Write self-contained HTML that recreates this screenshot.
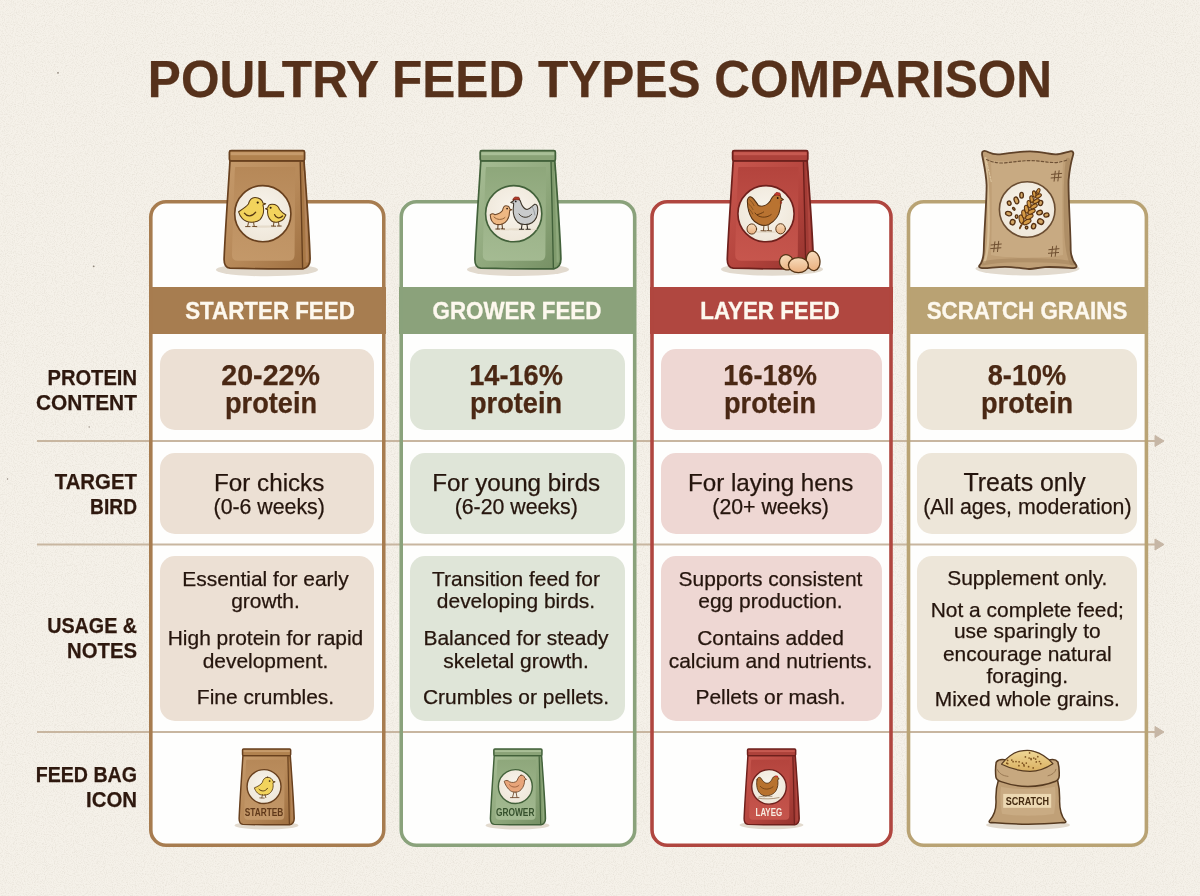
<!DOCTYPE html>
<html><head><meta charset="utf-8"><title>Poultry Feed Types Comparison</title>
<style>
html,body{margin:0;padding:0;}
body{width:1200px;height:896px;position:relative;overflow:hidden;background:#f5f1e9;
font-family:"Liberation Sans",Arial,sans-serif;}
.t{position:absolute;white-space:nowrap;z-index:3;-webkit-text-stroke:.25px currentColor;}
.cbg{position:absolute;background:#fefefd;border-radius:17px;z-index:0;}
.hb{position:absolute;z-index:2;}
.pill{position:absolute;border-radius:15px;z-index:2;}
.cb{position:absolute;box-sizing:border-box;border:3.6px solid;border-radius:17px;z-index:2;}
.lay{position:absolute;left:0;top:0;}
</style></head><body>
<svg class="lay" width="1200" height="896" viewBox="0 0 1200 896" style="z-index:0"><filter id="nz" x="0" y="0" width="100%" height="100%"><feTurbulence type="fractalNoise" baseFrequency=".9" numOctaves="2" seed="4"/><feColorMatrix type="matrix" values="0 0 0 0 .55  0 0 0 0 .5  0 0 0 0 .42  0 0 0 -1.1 .62"/></filter><rect width="1200" height="896" filter="url(#nz)" opacity=".55"/><g fill="#8f867c"><circle cx="58" cy="72.8" r=".9"/><circle cx="93.7" cy="266.3" r=".9"/><circle cx="89.2" cy="427" r=".7"/><circle cx="7.5" cy="479" r=".7"/></g></svg>
<div class="cbg" style="left:149.0px;top:200.0px;width:236.6px;height:647.0px;"></div>
<div class="cbg" style="left:399.4px;top:200.0px;width:237.1px;height:647.0px;"></div>
<div class="cbg" style="left:650.2px;top:200.0px;width:242.6px;height:647.0px;"></div>
<div class="cbg" style="left:906.7px;top:200.0px;width:241.5px;height:647.0px;"></div>
<svg class="lay" width="1200" height="896" viewBox="0 0 1200 896" style="z-index:1">
<line x1="37" y1="441.0" x2="1157" y2="441.0" stroke="#c8b6a0" stroke-width="2.1"/>
<path d="M1155,435.5 L1164,441.0 L1155,446.5 Z" fill="#c6b6a5" stroke="#c6b6a5" stroke-width="1" stroke-linejoin="round"/>
<line x1="37" y1="544.5" x2="1157" y2="544.5" stroke="#c8b6a0" stroke-width="2.1"/>
<path d="M1155,539.0 L1164,544.5 L1155,550.0 Z" fill="#c6b6a5" stroke="#c6b6a5" stroke-width="1" stroke-linejoin="round"/>
<line x1="37" y1="732.0" x2="1157" y2="732.0" stroke="#c8b6a0" stroke-width="2.1"/>
<path d="M1155,726.5 L1164,732.0 L1155,737.5 Z" fill="#c6b6a5" stroke="#c6b6a5" stroke-width="1" stroke-linejoin="round"/>
</svg>
<div class="hb" style="left:149.0px;top:286.5px;width:236.6px;height:47.0px;background:#a77d50;"></div>
<div class="pill" style="left:159.6px;top:349.0px;width:214.8px;height:81.0px;background:#ece0d4;"></div>
<div class="pill" style="left:159.6px;top:453.3px;width:214.8px;height:80.5px;background:#ece0d4;"></div>
<div class="pill" style="left:159.6px;top:555.6px;width:214.8px;height:165.2px;background:#ece0d4;"></div>
<svg class="lay" width="1200" height="896" viewBox="0 0 1200 896" style="z-index:2"><rect x="150.80" y="201.80" width="233.00" height="643.40" rx="15.20" fill="none" stroke="#a77c4f" stroke-width="3.6"/></svg>
<div class="t" style="left:70.00px;top:298.69px;width:400px;font-size:24.7px;line-height:24.7px;color:#fdf8ee;font-weight:700;text-align:center;transform:scaleX(0.905);transform-origin:center center;-webkit-text-stroke:.35px #fdf8ee;">STARTER FEED</div>
<div class="t" style="left:70.60px;top:361.39px;width:400px;font-size:28.6px;line-height:28.6px;color:#4a2814;font-weight:700;text-align:center;">20-22%</div>
<div class="t" style="left:70.60px;top:389.39px;width:400px;font-size:28.6px;line-height:28.6px;color:#4a2814;font-weight:700;text-align:center;transform:scaleX(0.95);transform-origin:center center;">protein</div>
<div class="t" style="left:69.20px;top:470.81px;width:400px;font-size:24.2px;line-height:24.2px;color:#25150d;font-weight:400;text-align:center;">For chicks</div>
<div class="t" style="left:69.20px;top:496.87px;width:400px;font-size:21.3px;line-height:21.3px;color:#25150d;font-weight:400;text-align:center;">(0-6 weeks)</div>
<div class="t" style="left:65.50px;top:568.97px;width:400px;font-size:20.95px;line-height:20.95px;color:#25150d;font-weight:400;text-align:center;">Essential for early</div>
<div class="t" style="left:65.50px;top:591.27px;width:400px;font-size:20.95px;line-height:20.95px;color:#25150d;font-weight:400;text-align:center;">growth.</div>
<div class="t" style="left:65.50px;top:628.37px;width:400px;font-size:20.95px;line-height:20.95px;color:#25150d;font-weight:400;text-align:center;">High protein for rapid</div>
<div class="t" style="left:65.50px;top:650.67px;width:400px;font-size:20.95px;line-height:20.95px;color:#25150d;font-weight:400;text-align:center;">development.</div>
<div class="t" style="left:65.50px;top:686.67px;width:400px;font-size:20.95px;line-height:20.95px;color:#25150d;font-weight:400;text-align:center;">Fine crumbles.</div>
<div class="hb" style="left:399.4px;top:286.5px;width:237.1px;height:47.0px;background:#8ba27b;"></div>
<div class="pill" style="left:410.0px;top:349.0px;width:215.3px;height:81.0px;background:#dfe5d8;"></div>
<div class="pill" style="left:410.0px;top:453.3px;width:215.3px;height:80.5px;background:#dfe5d8;"></div>
<div class="pill" style="left:410.0px;top:555.6px;width:215.3px;height:165.2px;background:#dfe5d8;"></div>
<svg class="lay" width="1200" height="896" viewBox="0 0 1200 896" style="z-index:2"><rect x="401.20" y="201.80" width="233.50" height="643.40" rx="15.20" fill="none" stroke="#8aa27b" stroke-width="3.6"/></svg>
<div class="t" style="left:317.40px;top:298.69px;width:400px;font-size:24.7px;line-height:24.7px;color:#fdf8ee;font-weight:700;text-align:center;transform:scaleX(0.905);transform-origin:center center;-webkit-text-stroke:.35px #fdf8ee;">GROWER FEED</div>
<div class="t" style="left:316.40px;top:361.39px;width:400px;font-size:28.6px;line-height:28.6px;color:#4a2814;font-weight:700;text-align:center;transform:scaleX(0.95);transform-origin:center center;">14-16%</div>
<div class="t" style="left:316.40px;top:389.39px;width:400px;font-size:28.6px;line-height:28.6px;color:#4a2814;font-weight:700;text-align:center;transform:scaleX(0.95);transform-origin:center center;">protein</div>
<div class="t" style="left:316.20px;top:470.81px;width:400px;font-size:24.2px;line-height:24.2px;color:#25150d;font-weight:400;text-align:center;">For young birds</div>
<div class="t" style="left:316.20px;top:496.87px;width:400px;font-size:21.3px;line-height:21.3px;color:#25150d;font-weight:400;text-align:center;">(6-20 weeks)</div>
<div class="t" style="left:316.00px;top:568.97px;width:400px;font-size:20.95px;line-height:20.95px;color:#25150d;font-weight:400;text-align:center;">Transition feed for</div>
<div class="t" style="left:316.00px;top:591.27px;width:400px;font-size:20.95px;line-height:20.95px;color:#25150d;font-weight:400;text-align:center;">developing birds.</div>
<div class="t" style="left:316.00px;top:628.37px;width:400px;font-size:20.95px;line-height:20.95px;color:#25150d;font-weight:400;text-align:center;">Balanced for steady</div>
<div class="t" style="left:316.00px;top:650.67px;width:400px;font-size:20.95px;line-height:20.95px;color:#25150d;font-weight:400;text-align:center;">skeletal growth.</div>
<div class="t" style="left:316.00px;top:686.67px;width:400px;font-size:20.95px;line-height:20.95px;color:#25150d;font-weight:400;text-align:center;">Crumbles or pellets.</div>
<div class="hb" style="left:650.2px;top:286.5px;width:242.6px;height:47.0px;background:#b04740;"></div>
<div class="pill" style="left:660.8px;top:349.0px;width:220.8px;height:81.0px;background:#eed7d3;"></div>
<div class="pill" style="left:660.8px;top:453.3px;width:220.8px;height:80.5px;background:#eed7d3;"></div>
<div class="pill" style="left:660.8px;top:555.6px;width:220.8px;height:165.2px;background:#eed7d3;"></div>
<svg class="lay" width="1200" height="896" viewBox="0 0 1200 896" style="z-index:2"><rect x="652.00" y="201.80" width="239.00" height="643.40" rx="15.20" fill="none" stroke="#b0463f" stroke-width="3.6"/></svg>
<div class="t" style="left:570.40px;top:298.69px;width:400px;font-size:24.7px;line-height:24.7px;color:#fdf8ee;font-weight:700;text-align:center;transform:scaleX(0.905);transform-origin:center center;-webkit-text-stroke:.35px #fdf8ee;">LAYER FEED</div>
<div class="t" style="left:570.40px;top:361.39px;width:400px;font-size:28.6px;line-height:28.6px;color:#4a2814;font-weight:700;text-align:center;transform:scaleX(0.95);transform-origin:center center;">16-18%</div>
<div class="t" style="left:570.40px;top:389.39px;width:400px;font-size:28.6px;line-height:28.6px;color:#4a2814;font-weight:700;text-align:center;transform:scaleX(0.95);transform-origin:center center;">protein</div>
<div class="t" style="left:570.60px;top:470.81px;width:400px;font-size:24.2px;line-height:24.2px;color:#25150d;font-weight:400;text-align:center;">For laying hens</div>
<div class="t" style="left:570.60px;top:496.87px;width:400px;font-size:21.3px;line-height:21.3px;color:#25150d;font-weight:400;text-align:center;">(20+ weeks)</div>
<div class="t" style="left:570.50px;top:568.97px;width:400px;font-size:20.95px;line-height:20.95px;color:#25150d;font-weight:400;text-align:center;">Supports consistent</div>
<div class="t" style="left:570.50px;top:591.27px;width:400px;font-size:20.95px;line-height:20.95px;color:#25150d;font-weight:400;text-align:center;">egg production.</div>
<div class="t" style="left:570.50px;top:628.37px;width:400px;font-size:20.95px;line-height:20.95px;color:#25150d;font-weight:400;text-align:center;">Contains added</div>
<div class="t" style="left:570.50px;top:650.67px;width:400px;font-size:20.95px;line-height:20.95px;color:#25150d;font-weight:400;text-align:center;">calcium and nutrients.</div>
<div class="t" style="left:570.50px;top:686.67px;width:400px;font-size:20.95px;line-height:20.95px;color:#25150d;font-weight:400;text-align:center;">Pellets or mash.</div>
<div class="hb" style="left:906.7px;top:286.5px;width:241.5px;height:47.0px;background:#b9a273;"></div>
<div class="pill" style="left:917.3px;top:349.0px;width:219.7px;height:81.0px;background:#ede6d9;"></div>
<div class="pill" style="left:917.3px;top:453.3px;width:219.7px;height:80.5px;background:#ede6d9;"></div>
<div class="pill" style="left:917.3px;top:555.6px;width:219.7px;height:165.2px;background:#ede6d9;"></div>
<svg class="lay" width="1200" height="896" viewBox="0 0 1200 896" style="z-index:2"><rect x="908.50" y="201.80" width="237.90" height="643.40" rx="15.20" fill="none" stroke="#b9a374" stroke-width="3.6"/></svg>
<div class="t" style="left:827.00px;top:298.69px;width:400px;font-size:24.7px;line-height:24.7px;color:#fdf8ee;font-weight:700;text-align:center;transform:scaleX(0.905);transform-origin:center center;-webkit-text-stroke:.35px #fdf8ee;">SCRATCH GRAINS</div>
<div class="t" style="left:827.20px;top:361.39px;width:400px;font-size:28.6px;line-height:28.6px;color:#4a2814;font-weight:700;text-align:center;transform:scaleX(0.95);transform-origin:center center;">8-10%</div>
<div class="t" style="left:827.20px;top:389.39px;width:400px;font-size:28.6px;line-height:28.6px;color:#4a2814;font-weight:700;text-align:center;transform:scaleX(0.95);transform-origin:center center;">protein</div>
<div class="t" style="left:824.60px;top:470.22px;width:400px;font-size:24.9px;line-height:24.9px;color:#25150d;font-weight:400;text-align:center;">Treats only</div>
<div class="t" style="left:827.40px;top:496.87px;width:400px;font-size:21.3px;line-height:21.3px;color:#25150d;font-weight:400;text-align:center;">(All ages, moderation)</div>
<div class="t" style="left:827.30px;top:567.67px;width:400px;font-size:20.95px;line-height:20.95px;color:#25150d;font-weight:400;text-align:center;">Supplement only.</div>
<div class="t" style="left:827.30px;top:599.87px;width:400px;font-size:20.95px;line-height:20.95px;color:#25150d;font-weight:400;text-align:center;">Not a complete feed;</div>
<div class="t" style="left:827.30px;top:621.47px;width:400px;font-size:20.95px;line-height:20.95px;color:#25150d;font-weight:400;text-align:center;">use sparingly to</div>
<div class="t" style="left:827.30px;top:644.27px;width:400px;font-size:20.95px;line-height:20.95px;color:#25150d;font-weight:400;text-align:center;">encourage natural</div>
<div class="t" style="left:827.30px;top:666.27px;width:400px;font-size:20.95px;line-height:20.95px;color:#25150d;font-weight:400;text-align:center;">foraging.</div>
<div class="t" style="left:827.30px;top:689.07px;width:400px;font-size:20.95px;line-height:20.95px;color:#25150d;font-weight:400;text-align:center;">Mixed whole grains.</div>
<div class="t" style="left:-62.80px;top:366.62px;width:200px;font-size:21.6px;line-height:21.6px;color:#2e180e;font-weight:700;text-align:right;transform:scaleX(0.933);transform-origin:right center;">PROTEIN</div>
<div class="t" style="left:-62.80px;top:391.72px;width:200px;font-size:21.6px;line-height:21.6px;color:#2e180e;font-weight:700;text-align:right;transform:scaleX(0.968);transform-origin:right center;">CONTENT</div>
<div class="t" style="left:-62.80px;top:470.82px;width:200px;font-size:21.6px;line-height:21.6px;color:#2e180e;font-weight:700;text-align:right;transform:scaleX(0.9440000000000001);transform-origin:right center;">TARGET</div>
<div class="t" style="left:-62.80px;top:495.62px;width:200px;font-size:21.6px;line-height:21.6px;color:#2e180e;font-weight:700;text-align:right;transform:scaleX(0.888);transform-origin:right center;">BIRD</div>
<div class="t" style="left:-62.80px;top:615.32px;width:200px;font-size:21.6px;line-height:21.6px;color:#2e180e;font-weight:700;text-align:right;transform:scaleX(0.913);transform-origin:right center;">USAGE &amp;</div>
<div class="t" style="left:-62.80px;top:640.02px;width:200px;font-size:21.6px;line-height:21.6px;color:#2e180e;font-weight:700;text-align:right;transform:scaleX(0.9400000000000001);transform-origin:right center;">NOTES</div>
<div class="t" style="left:-62.80px;top:764.32px;width:200px;font-size:21.6px;line-height:21.6px;color:#2e180e;font-weight:700;text-align:right;transform:scaleX(0.908);transform-origin:right center;">FEED BAG</div>
<div class="t" style="left:-62.80px;top:788.62px;width:200px;font-size:21.6px;line-height:21.6px;color:#2e180e;font-weight:700;text-align:right;transform:scaleX(0.9450000000000001);transform-origin:right center;">ICON</div>
<div class="t" style="left:49.70px;top:53.83px;width:1100px;font-size:51px;line-height:51px;color:#56311b;font-weight:700;text-align:center;transform:scaleX(0.972);transform-origin:center center;">POULTRY FEED TYPES COMPARISON</div>
<svg class="lay" width="1200" height="896" viewBox="0 0 1200 896" style="z-index:4">
<defs><radialGradient id="gLbl" cx=".5" cy=".42" r=".62"><stop offset="0" stop-color="#f8f4ec"/><stop offset="1" stop-color="#eee6d8"/></radialGradient><linearGradient id="gEgg" x1="0" y1="0" x2="0" y2="1"><stop offset="0" stop-color="#f7dcbc"/><stop offset="1" stop-color="#eab07f"/></linearGradient><linearGradient id="gGrain" x1="0" y1="0" x2="0" y2="1"><stop offset="0" stop-color="#f0d796"/><stop offset="1" stop-color="#d9b061"/></linearGradient><linearGradient id="gBbrown" x1="0" y1="0" x2="1" y2="1"><stop offset="0" stop-color="#c59a6b"/><stop offset=".55" stop-color="#b68858"/><stop offset="1" stop-color="#9d6e3f"/></linearGradient><linearGradient id="gPbrown" x1="0" y1="0" x2="0" y2="1"><stop offset="0" stop-color="#b68858"/><stop offset="1" stop-color="#c59a6b" stop-opacity=".9"/></linearGradient><linearGradient id="gBgreen" x1="0" y1="0" x2="1" y2="1"><stop offset="0" stop-color="#a7bd95"/><stop offset=".55" stop-color="#8ea77b"/><stop offset="1" stop-color="#748e62"/></linearGradient><linearGradient id="gPgreen" x1="0" y1="0" x2="0" y2="1"><stop offset="0" stop-color="#8ea77b"/><stop offset="1" stop-color="#a7bd95" stop-opacity=".9"/></linearGradient><linearGradient id="gBred" x1="0" y1="0" x2="1" y2="1"><stop offset="0" stop-color="#c9584f"/><stop offset=".55" stop-color="#b4443d"/><stop offset="1" stop-color="#93322d"/></linearGradient><linearGradient id="gPred" x1="0" y1="0" x2="0" y2="1"><stop offset="0" stop-color="#b4443d"/><stop offset="1" stop-color="#c9584f" stop-opacity=".9"/></linearGradient></defs>
<ellipse cx="267" cy="269.8" rx="51" ry="6.5" fill="#e2dace"/>
<g transform="translate(267,150.6) scale(1.0)" stroke-linejoin="round">
<path d="M-37,10 C-38.8,40 -41.8,80 -42.9,108 Q-43.2,117 -37,117.6 Q0,118.6 36,118.2 Q43.3,117 43.1,108 C42.3,80 39,40 37,10 Z" fill="url(#gBbrown)"/>
<path d="M-31.5,16.5 Q-32,16.5 -32.3,22 C-33,45 -34.5,80 -35,104 Q-35.2,110.2 -29,110.2 L22,110.2 Q27.6,110.2 27.6,104 C27.8,80 28,45 28.3,16.5 Z" fill="url(#gPbrown)"/>
<path d="M33.2,11 C34,45 35,85 35.6,118.2 L36,118.2 Q43.3,117 43.1,108 C42.3,80 39,40 37,10 Z" fill="#a77745"/>
<path d="M37.2,20 C38.5,50 39.6,85 39.9,112" fill="none" stroke="#b5855a" stroke-width="2.2"/>
<path d="M33.2,11 C34,45 35,85 35.6,118.2" fill="none" stroke="#68401e" stroke-width="1.36"/>
<path d="M-37,10 C-38.8,40 -41.8,80 -42.9,108 Q-43.2,117 -37,117.6 Q0,118.6 36,118.2 Q43.3,117 43.1,108 C42.3,80 39,40 37,10 Z" fill="none" stroke="#68401e" stroke-width="1.7"/>
<rect x="-37.6" y="0" width="75.2" height="10.2" rx="1.6" fill="#b1824f"/>
<rect x="-36.5" y="1.6" width="73" height="3" fill="#c69b6c"/>
<rect x="-37.6" y="0" width="75.2" height="10.2" rx="1.6" fill="none" stroke="#68401e" stroke-width="1.7"/>
<circle cx="-4.2" cy="63.1" r="28.1" fill="url(#gLbl)" stroke="#68401e" stroke-width="1.615"/>
</g>
<g stroke="#553813" stroke-width="1.05" stroke-linejoin="round" stroke-linecap="round">
<path d="M245,226.6 C255,225.2 275,225.2 284,226.6 C275,228 255,228 245,226.6 Z" fill="#e6dccb" stroke="none"/>
<path d="M255,197.4 C259.6,197.4 262.6,200.4 262.9,203 L265.7,203.7 L262.9,204.9 C264,209 264,215 260,219.6 C256,223.2 247,223.2 242.4,218.6 C240.4,216.6 239.1,213.6 238.6,211.8 C242,209.5 246,207 248.4,204 C249.4,200 251.4,197.4 255,197.4 Z" fill="#f2d35c"/>
<path d="M244.4,213.2 C247,216.9 252,217.1 255.7,212.2" fill="none" stroke-width="1.2"/>
<circle cx="257.7" cy="202.6" r="1.1" fill="#2e1c0c" stroke="none"/>
<path d="M248.5,222.6 L247.6,226.4 M245.6,226.6 L250,226.6 M253.6,222.6 L254.2,226.2 M252.6,226.4 L256.8,226.6" fill="none" stroke="#6e4a26" stroke-width="1"/>
<path d="M272,204.2 C269.5,204.2 268,206 267.6,208 L265.5,208.7 L267.7,209.7 C267,213 268,218.5 271.5,221 C275,223.6 281.5,222 284,218.6 L285.9,215 C283.5,213.5 281,211.5 279.5,209.5 C278.5,206 275.5,204.2 272,204.2 Z" fill="#f2d35c"/>
<path d="M274.5,214.5 C276,218.6 280,218.9 282.6,216" fill="none" stroke-width="1.2"/>
<circle cx="270.6" cy="207.8" r="1" fill="#2e1c0c" stroke="none"/>
<path d="M274,222 L273.4,226 M271.4,226 L275.6,226.2 M278.5,222 L279,225.8 M277.4,226 L281.2,226" fill="none" stroke="#6e4a26" stroke-width="1"/>
</g>
<ellipse cx="518" cy="269.6" rx="51" ry="6.5" fill="#e2dace"/>
<g transform="translate(517.8,150.6) scale(1.0)" stroke-linejoin="round">
<path d="M-37,10 C-38.8,40 -41.8,80 -42.9,108 Q-43.2,117 -37,117.6 Q0,118.6 36,118.2 Q43.3,117 43.1,108 C42.3,80 39,40 37,10 Z" fill="url(#gBgreen)"/>
<path d="M-31.5,16.5 Q-32,16.5 -32.3,22 C-33,45 -34.5,80 -35,104 Q-35.2,110.2 -29,110.2 L22,110.2 Q27.6,110.2 27.6,104 C27.8,80 28,45 28.3,16.5 Z" fill="url(#gPgreen)"/>
<path d="M33.2,11 C34,45 35,85 35.6,118.2 L36,118.2 Q43.3,117 43.1,108 C42.3,80 39,40 37,10 Z" fill="#7f9a6c"/>
<path d="M37.2,20 C38.5,50 39.6,85 39.9,112" fill="none" stroke="#8fa97c" stroke-width="2.2"/>
<path d="M33.2,11 C34,45 35,85 35.6,118.2" fill="none" stroke="#42613a" stroke-width="1.36"/>
<path d="M-37,10 C-38.8,40 -41.8,80 -42.9,108 Q-43.2,117 -37,117.6 Q0,118.6 36,118.2 Q43.3,117 43.1,108 C42.3,80 39,40 37,10 Z" fill="none" stroke="#42613a" stroke-width="1.7"/>
<rect x="-37.6" y="0" width="75.2" height="10.2" rx="1.6" fill="#8aa377"/>
<rect x="-36.5" y="1.6" width="73" height="3" fill="#a9bf97"/>
<rect x="-37.6" y="0" width="75.2" height="10.2" rx="1.6" fill="none" stroke="#42613a" stroke-width="1.7"/>
<circle cx="-4.1" cy="63.1" r="28.1" fill="url(#gLbl)" stroke="#42613a" stroke-width="1.615"/>
</g>
<g stroke="#3a3226" stroke-width="1.05" stroke-linejoin="round" stroke-linecap="round">
<path d="M492,229.4 C505,228 525,228 538,229.4 C525,230.8 505,230.8 492,229.4 Z" fill="#e6dccb" stroke="none"/>
<path d="M506,205.8 C508,205.8 509.6,207.4 509.8,209 L511.8,209.8 L509.7,210.6 C509.7,213 509.3,217 507.1,220.3 C505,223.7 500,225.3 496,224.3 C492.4,223.3 490.5,219.5 490.2,214.8 C491.6,213.5 493.6,213.5 495,214.8 C498,214 501,212.5 502.5,210.5 C503,208 504.4,205.8 506,205.8 Z" fill="#efb883" stroke="#6b4526"/>
<path d="M494,217 C497,220.2 502,220.2 505,217.5" fill="none" stroke="#8a5a32" stroke-width=".9"/>
<circle cx="507.1" cy="208.6" r=".9" fill="#2e1d10" stroke="none"/>
<path d="M498,224.6 L497.8,228.8 M495.8,229 L499.6,229 M502,224.2 L502.5,228.6 M501,228.8 L504.6,229" fill="none" stroke="#5b3a1e" stroke-width="1"/>
<path d="M516.5,198.6 C519,198.6 520.6,200.6 521,203 C522.5,207 523.6,209 527,209.5 C530,209 532,206.5 534.5,204.3 C537,203.6 537.8,207 537.8,210 C537.8,215 536,220 532,222.7 C528,225.3 521,225.3 517.5,222 C514.5,219 513,214 513.2,209 C513.4,206.5 513.8,204.6 513.6,203.2 L510.8,202.4 L513.3,201 C513.6,199.8 515,198.6 516.5,198.6 Z" fill="#c9cbcc"/>
<path d="M519,214 C522,218.2 528,218.6 531.6,214.4" fill="none" stroke-width="1"/>
<path d="M532,206.5 C533.5,209 534.5,212 534.8,215" fill="none" stroke="#8a9096" stroke-width=".8"/>
<path d="M513,199.8 C513.2,197.2 515.4,196.4 517,197.2 C518.6,196.6 520.2,198 519.4,199.8 C517.5,199.5 515,199.8 513,199.8 Z" fill="#b33a27" stroke="#7a2418" stroke-width=".7"/>
<circle cx="515.7" cy="201.4" r=".9" fill="#1e1e1e" stroke="none"/>
<path d="M522,224.6 L521.4,229 M519.4,229.2 L523.6,229.2 M527,224.6 L527.6,229 M526,229.2 L530.2,229.2" fill="none" stroke="#2e2820" stroke-width="1.1"/>
</g>
<ellipse cx="772" cy="269.2" rx="51" ry="6.5" fill="#e2dace"/>
<g transform="translate(770.2,150.6) scale(1.0)" stroke-linejoin="round">
<path d="M-37,10 C-38.8,40 -41.8,80 -42.9,108 Q-43.2,117 -37,117.6 Q0,118.6 36,118.2 Q43.3,117 43.1,108 C42.3,80 39,40 37,10 Z" fill="url(#gBred)"/>
<path d="M-31.5,16.5 Q-32,16.5 -32.3,22 C-33,45 -34.5,80 -35,104 Q-35.2,110.2 -29,110.2 L22,110.2 Q27.6,110.2 27.6,104 C27.8,80 28,45 28.3,16.5 Z" fill="url(#gPred)"/>
<path d="M33.2,11 C34,45 35,85 35.6,118.2 L36,118.2 Q43.3,117 43.1,108 C42.3,80 39,40 37,10 Z" fill="#a23b35"/>
<path d="M37.2,20 C38.5,50 39.6,85 39.9,112" fill="none" stroke="#b0463f" stroke-width="2.2"/>
<path d="M33.2,11 C34,45 35,85 35.6,118.2" fill="none" stroke="#6e201c" stroke-width="1.36"/>
<path d="M-37,10 C-38.8,40 -41.8,80 -42.9,108 Q-43.2,117 -37,117.6 Q0,118.6 36,118.2 Q43.3,117 43.1,108 C42.3,80 39,40 37,10 Z" fill="none" stroke="#6e201c" stroke-width="1.7"/>
<rect x="-37.6" y="0" width="75.2" height="10.2" rx="1.6" fill="#ad423b"/>
<rect x="-36.5" y="1.6" width="73" height="3" fill="#c65a51"/>
<rect x="-37.6" y="0" width="75.2" height="10.2" rx="1.6" fill="none" stroke="#6e201c" stroke-width="1.7"/>
<circle cx="-4.2" cy="63.1" r="28.1" fill="url(#gLbl)" stroke="#6e201c" stroke-width="1.615"/>
</g>
<g stroke="#4f2d10" stroke-width="1.05" stroke-linejoin="round" stroke-linecap="round">
<path d="M750,232 C760,230.6 773,230.6 783,232 C773,233.4 760,233.4 750,232 Z" fill="#e6dccb" stroke="none"/>
<path d="M747.4,202 C747,198.5 749,196.4 751,196.9 C754,198.2 756.4,202.6 758.3,205.4 C762.3,207 767,205.4 770,201.4 C771.5,198 773.5,194.8 776.6,194.3 C779.2,194 780.7,196 781.1,198 L783.4,199.6 L781.1,200.8 C781.1,203 780.6,206 780.1,209 C779.1,215.2 775,221.2 768.5,224.7 C762,227.2 755,223.2 752,218.6 C749,214 747.6,208.5 747.4,202 Z" fill="#b97331"/>
<path d="M748.6,204 C750.6,205.6 752,207.6 753,209.6 M748.4,208.2 C750.4,210 751.8,212 752.8,214 M749.6,199.8 C751.6,201.4 753,203.4 754,205.6" fill="none" stroke="#7a4a1c" stroke-width=".75"/>
<path d="M755,213 C758,217.8 766,218.8 771.2,214.6 M757.4,214.6 C760,214 762,213 763.6,212" fill="none" stroke="#6a3b12" stroke-width="1"/>
<path d="M774.6,195 C774.8,192.6 776.8,191.8 778.2,192.8 C779.6,192.4 781,193.8 780.2,195.6 C778.5,195.2 776.4,195.2 774.6,195 Z" fill="#c6382e" stroke="#8a2419" stroke-width=".7"/>
<path d="M780.8,201 C782,201.6 782.2,203.6 780.8,203.8 Z" fill="#cf463a" stroke="#8a2419" stroke-width=".6"/>
<circle cx="777.7" cy="198" r=".9" fill="#24130a" stroke="none"/>
<path d="M764,224.8 L763.5,230.6 M761,230.7 L766,230.9 M768,224.6 L768.5,230.3 M767,230.6 L771.6,230.9" fill="none" stroke="#6e4a28" stroke-width="1"/>
<ellipse cx="751.8" cy="229.0" rx="4.8" ry="5.1" fill="url(#gEgg)" stroke="#5e3a1a" stroke-width="1"/>
<ellipse cx="780.6" cy="228.8" rx="4.8" ry="5.1" fill="url(#gEgg)" stroke="#5e3a1a" stroke-width="1"/>
</g>
<g stroke="#553314" stroke-width="1.3">
<ellipse cx="786.6" cy="262.3" rx="6.9" ry="7.8" transform="rotate(-25 786.6 262.3)" fill="url(#gEgg)"/>
<ellipse cx="813.1" cy="260.9" rx="6.8" ry="9.8" transform="rotate(-8 813.1 260.9)" fill="url(#gEgg)"/>
<ellipse cx="798.4" cy="265.1" rx="10" ry="7.5" fill="url(#gEgg)"/>
</g>
<ellipse cx="1027.5" cy="268.6" rx="52" ry="6.8" fill="#e2dace"/>
<g stroke-linejoin="round" stroke-linecap="round">
<path d="M982.3,152 C983.5,150.3 986,150.8 988.5,152.3 C992,154 996,154.7 1000,154.3 C1010,153.2 1020,151.3 1030,151.3 C1040,151.3 1047,153.6 1055.5,154.4 C1060,154.6 1066,152.2 1070,151.3 C1073.2,150.7 1073.8,153 1073,155.3 C1071.6,160 1069.5,170 1068.6,180 C1068,195 1070.6,230 1070.7,250 C1071,258 1074,262.6 1076.3,265.4 C1077.2,267 1075.6,268.3 1073,268.1 C1065,267.6 1055,266.7 1045,267.1 C1038,267.5 1034,269 1030,269 C1026,269 1016,267.1 1005,266.9 C995,266.9 988,268.5 982,268.1 C979.5,267.9 978.5,266.6 979.5,265.4 C982,262.5 983.6,258 983.8,250 C984.1,230 986.8,200 986.6,185 C986.1,173 983.6,163 982.3,156 C982,154.5 982,153 982.3,152 Z" fill="#bf9f76"/>
<path d="M991,160 C1000,162 1015,162 1030,160.5 C1045,162 1056,162 1063,160.5 C1062,185 1062,220 1063,255 C1050,258.5 1005,258.5 991,255 C992,220 992,185 991,160 Z" fill="#c8aa82"/>
<path d="M985.5,158 C987.5,175 989,200 988.6,230 C988.3,245 987,256 984.5,262" fill="none" stroke="#dcc49e" stroke-width="2.2" stroke-opacity=".8"/>
<path d="M1068,160 C1066,175 1065.4,200 1066.4,230 C1067,245 1068.8,257 1072,263" fill="none" stroke="#a4845c" stroke-width="4.5" stroke-opacity=".6"/>
<path d="M983,263.5 C1000,259 1055,259 1074,263.5" fill="none" stroke="#a4845c" stroke-width="4" stroke-opacity=".55"/>
<path d="M982.3,152 C983.5,150.3 986,150.8 988.5,152.3 C992,154 996,154.7 1000,154.3 C1010,153.2 1020,151.3 1030,151.3 C1040,151.3 1047,153.6 1055.5,154.4 C1060,154.6 1066,152.2 1070,151.3 C1073.2,150.7 1073.8,153 1073,155.3 C1071.6,160 1069.5,170 1068.6,180 C1068,195 1070.6,230 1070.7,250 C1071,258 1074,262.6 1076.3,265.4 C1077.2,267 1075.6,268.3 1073,268.1 C1065,267.6 1055,266.7 1045,267.1 C1038,267.5 1034,269 1030,269 C1026,269 1016,267.1 1005,266.9 C995,266.9 988,268.5 982,268.1 C979.5,267.9 978.5,266.6 979.5,265.4 C982,262.5 983.6,258 983.8,250 C984.1,230 986.8,200 986.6,185 C986.1,173 983.6,163 982.3,156 C982,154.5 982,153 982.3,152 Z" fill="none" stroke="#5f4229" stroke-width="1.8"/>
<path d="M986.5,159.6 C991,161.5 996,163 1002,163 C1012,162.5 1020,160.6 1030,160.6 C1040,160.6 1047,162.6 1055,162.6 C1060,162.4 1064,161 1067,160" fill="none" stroke="#6f5236" stroke-width="1.1" stroke-dasharray="2.6 2"/>
<path d="M986.8,162 C988.5,169 990,176 991.5,183" fill="none" stroke="#e2cda8" stroke-width="1" stroke-dasharray="2 1.6"/>
<path d="M1055.3,171.2 L1054.1,181.2 M1059.1,170.7 L1057.9,181.0 M1051.5,174.39999999999998 L1061.7,173.39999999999998 M1051.1,178.0 L1061.3,177.2" fill="none" stroke="#6f4f30" stroke-width="1"/>
<path d="M994.9,241.8 L993.7,251.8 M998.7,241.3 L997.5,251.60000000000002 M991.1,245.0 L1001.3000000000001,244.0 M990.7,248.60000000000002 L1000.9,247.8" fill="none" stroke="#6f4f30" stroke-width="1"/>
<path d="M1052.6,246.5 L1051.3999999999999,256.5 M1056.3999999999999,246.0 L1055.2,256.3 M1048.8,249.7 L1059.0,248.7 M1048.3999999999999,253.3 L1058.6,252.5" fill="none" stroke="#6f4f30" stroke-width="1"/>
<circle cx="1027.2" cy="209.5" r="27.8" fill="url(#gLbl)" stroke="#6a4d32" stroke-width="1.6"/>
<g stroke="#5a3210" stroke-width="1.05" fill="#d49a45">
<ellipse cx="1021.36" cy="219.14" rx="4.30" ry="2.21" transform="rotate(-100.5 1021.36 219.14)"/>
<ellipse cx="1027.04" cy="221.86" rx="4.30" ry="2.21" transform="rotate(-28.5 1027.04 221.86)"/>
<ellipse cx="1023.93" cy="214.12" rx="4.09" ry="2.09" transform="rotate(-100.5 1023.93 214.12)"/>
<ellipse cx="1029.33" cy="216.70" rx="4.09" ry="2.09" transform="rotate(-28.5 1029.33 216.70)"/>
<ellipse cx="1026.50" cy="209.10" rx="3.87" ry="1.98" transform="rotate(-100.5 1026.50 209.10)"/>
<ellipse cx="1031.61" cy="211.54" rx="3.87" ry="1.98" transform="rotate(-28.5 1031.61 211.54)"/>
<ellipse cx="1029.08" cy="204.08" rx="3.65" ry="1.87" transform="rotate(-100.5 1029.08 204.08)"/>
<ellipse cx="1033.89" cy="206.38" rx="3.65" ry="1.87" transform="rotate(-28.5 1033.89 206.38)"/>
<ellipse cx="1031.65" cy="199.06" rx="3.43" ry="1.76" transform="rotate(-100.5 1031.65 199.06)"/>
<ellipse cx="1036.18" cy="201.22" rx="3.43" ry="1.76" transform="rotate(-28.5 1036.18 201.22)"/>
<ellipse cx="1034.23" cy="194.04" rx="3.21" ry="1.64" transform="rotate(-100.5 1034.23 194.04)"/>
<ellipse cx="1038.46" cy="196.06" rx="3.21" ry="1.64" transform="rotate(-28.5 1038.46 196.06)"/>
<ellipse cx="1038.1" cy="191.4" rx="1.5" ry="3" transform="rotate(25 1038.1 191.4)"/>
</g>
<path d="M1023.6,221.5 L1019.8,228.6" stroke="#6b3c10" stroke-width="1.4" fill="none"/>
<path d="M1024.2,220.5 L1037.8,192.0" stroke="#7a4814" stroke-width=".8" fill="none"/>
<ellipse cx="1021.6" cy="195.2" rx="1.8" ry="2.9" transform="rotate(0 1021.6 195.2)" fill="#d3a664" stroke="#553012" stroke-width="1.35"/>
<ellipse cx="1016.4" cy="200.4" rx="2.1" ry="3.5" transform="rotate(-20 1016.4 200.4)" fill="#d3a664" stroke="#553012" stroke-width="1.35"/>
<ellipse cx="1009.2" cy="203.2" rx="1.8" ry="2.2" transform="rotate(-20 1009.2 203.2)" fill="#d3a664" stroke="#553012" stroke-width="1.35"/>
<ellipse cx="1013.8" cy="208.8" rx="0.9" ry="1.6" transform="rotate(-40 1013.8 208.8)" fill="#d3a664" stroke="#553012" stroke-width="1.35"/>
<ellipse cx="1008.6" cy="213.6" rx="3.1" ry="2.1" transform="rotate(15 1008.6 213.6)" fill="#d3a664" stroke="#553012" stroke-width="1.35"/>
<ellipse cx="1016.6" cy="216.6" rx="1.3" ry="1.8" transform="rotate(0 1016.6 216.6)" fill="#d3a664" stroke="#553012" stroke-width="1.35"/>
<ellipse cx="1012.6" cy="222.2" rx="2.4" ry="2.7" transform="rotate(20 1012.6 222.2)" fill="#d3a664" stroke="#553012" stroke-width="1.35"/>
<ellipse cx="1040.6" cy="203.0" rx="2.0" ry="2.6" transform="rotate(20 1040.6 203.0)" fill="#d3a664" stroke="#553012" stroke-width="1.35"/>
<ellipse cx="1039.6" cy="212.6" rx="2.9" ry="2.1" transform="rotate(-20 1039.6 212.6)" fill="#d3a664" stroke="#553012" stroke-width="1.35"/>
<ellipse cx="1046.4" cy="215.0" rx="2.6" ry="2.0" transform="rotate(-15 1046.4 215.0)" fill="#d3a664" stroke="#553012" stroke-width="1.35"/>
<ellipse cx="1040.6" cy="221.6" rx="3.1" ry="2.6" transform="rotate(25 1040.6 221.6)" fill="#d3a664" stroke="#553012" stroke-width="1.35"/>
<ellipse cx="1033.6" cy="226.2" rx="2.1" ry="2.7" transform="rotate(15 1033.6 226.2)" fill="#d3a664" stroke="#553012" stroke-width="1.35"/>
<ellipse cx="1026.6" cy="227.6" rx="1.3" ry="1.4" transform="rotate(0 1026.6 227.6)" fill="#d3a664" stroke="#553012" stroke-width="1.35"/>
<path d="M1021,225 L1019.6,228" stroke="#6b3c10" stroke-width="1.1"/>
</g>
<g transform="translate(0,0.8)">
<ellipse cx="266.5" cy="824.6" rx="32" ry="4.2" fill="#e2dace"/>
<g transform="translate(266.6,748.3) scale(0.64)" stroke-linejoin="round">
<path d="M-37,10 C-38.8,40 -41.8,80 -42.9,108 Q-43.2,117 -37,117.6 Q0,118.6 36,118.2 Q43.3,117 43.1,108 C42.3,80 39,40 37,10 Z" fill="url(#gBbrown)"/>
<path d="M-31.5,16.5 Q-32,16.5 -32.3,22 C-33,45 -34.5,80 -35,104 Q-35.2,110.2 -29,110.2 L22,110.2 Q27.6,110.2 27.6,104 C27.8,80 28,45 28.3,16.5 Z" fill="url(#gPbrown)"/>
<path d="M33.2,11 C34,45 35,85 35.6,118.2 L36,118.2 Q43.3,117 43.1,108 C42.3,80 39,40 37,10 Z" fill="#a77745"/>
<path d="M37.2,20 C38.5,50 39.6,85 39.9,112" fill="none" stroke="#b5855a" stroke-width="2.2"/>
<path d="M33.2,11 C34,45 35,85 35.6,118.2" fill="none" stroke="#68401e" stroke-width="1.8399999999999999"/>
<path d="M-37,10 C-38.8,40 -41.8,80 -42.9,108 Q-43.2,117 -37,117.6 Q0,118.6 36,118.2 Q43.3,117 43.1,108 C42.3,80 39,40 37,10 Z" fill="none" stroke="#68401e" stroke-width="2.3"/>
<rect x="-37.6" y="0" width="75.2" height="10.2" rx="1.6" fill="#b1824f"/>
<rect x="-36.5" y="1.6" width="73" height="3" fill="#c69b6c"/>
<rect x="-37.6" y="0" width="75.2" height="10.2" rx="1.6" fill="none" stroke="#68401e" stroke-width="2.3"/>
<circle cx="-4" cy="58.6" r="26.5" fill="url(#gLbl)" stroke="#68401e" stroke-width="2.1849999999999996"/>
</g>
<text x="264" y="815.6" text-anchor="middle" font-family="Liberation Sans, Arial, sans-serif" font-weight="700" font-size="10.8" fill="#60391a" textLength="38.5" lengthAdjust="spacingAndGlyphs">STARTEB</text>
<g stroke="#553813" stroke-width=".85" stroke-linejoin="round" stroke-linecap="round">
<path d="M267.5,776.4 C270.5,776.4 272.6,778.5 272.9,780.5 L275.2,781 L272.9,782 C273.6,786 272.9,790 269.6,792.6 C266.5,795 260.5,795 257.5,792.2 C256,790.8 254.8,788.6 254.4,787 C257.5,785.8 261,784 262.4,781.5 C263,778.5 265,776.4 267.5,776.4 Z" fill="#f2d35c"/>
<path d="M259,788.5 C261.5,791 265.5,790.8 267.5,787.5" fill="none" stroke-width=".95"/>
<circle cx="269.6" cy="780.2" r=".85" fill="#2e1c0c" stroke="none"/>
<path d="M262.5,793.8 L261.8,797 M259.8,797.1 L264.2,797.3 M265,793.6 L265.8,796.8" fill="none" stroke="#6e4a26"/>
</g>
<ellipse cx="517.5" cy="824.6" rx="32" ry="4.2" fill="#e2dace"/>
<g transform="translate(517.9,748.3) scale(0.64)" stroke-linejoin="round">
<path d="M-37,10 C-38.8,40 -41.8,80 -42.9,108 Q-43.2,117 -37,117.6 Q0,118.6 36,118.2 Q43.3,117 43.1,108 C42.3,80 39,40 37,10 Z" fill="url(#gBgreen)"/>
<path d="M-31.5,16.5 Q-32,16.5 -32.3,22 C-33,45 -34.5,80 -35,104 Q-35.2,110.2 -29,110.2 L22,110.2 Q27.6,110.2 27.6,104 C27.8,80 28,45 28.3,16.5 Z" fill="url(#gPgreen)"/>
<path d="M33.2,11 C34,45 35,85 35.6,118.2 L36,118.2 Q43.3,117 43.1,108 C42.3,80 39,40 37,10 Z" fill="#7f9a6c"/>
<path d="M37.2,20 C38.5,50 39.6,85 39.9,112" fill="none" stroke="#8fa97c" stroke-width="2.2"/>
<path d="M33.2,11 C34,45 35,85 35.6,118.2" fill="none" stroke="#42613a" stroke-width="1.8399999999999999"/>
<path d="M-37,10 C-38.8,40 -41.8,80 -42.9,108 Q-43.2,117 -37,117.6 Q0,118.6 36,118.2 Q43.3,117 43.1,108 C42.3,80 39,40 37,10 Z" fill="none" stroke="#42613a" stroke-width="2.3"/>
<rect x="-37.6" y="0" width="75.2" height="10.2" rx="1.6" fill="#8aa377"/>
<rect x="-36.5" y="1.6" width="73" height="3" fill="#a9bf97"/>
<rect x="-37.6" y="0" width="75.2" height="10.2" rx="1.6" fill="none" stroke="#42613a" stroke-width="2.3"/>
<circle cx="-4" cy="58.6" r="26.5" fill="url(#gLbl)" stroke="#42613a" stroke-width="2.1849999999999996"/>
</g>
<text x="515.2" y="815.6" text-anchor="middle" font-family="Liberation Sans, Arial, sans-serif" font-weight="700" font-size="10.8" fill="#36512d" textLength="38.5" lengthAdjust="spacingAndGlyphs">GROWER</text>
<g stroke="#6b4526" stroke-width=".85" stroke-linejoin="round" stroke-linecap="round">
<path d="M521,774.4 C523,774.1 524.5,775.4 524.7,777.2 L526.5,778.6 L524.5,779.2 C524.7,782 523.9,786 521,789 C518.5,791.8 513.5,792.2 510.5,790 C507.6,788 505.2,784 504.2,780.5 C506,779.1 508,779.5 509.5,781 C512,782 515,782 517,780 C518,777.5 519,774.7 521,774.4 Z" fill="#e8a57a"/>
<path d="M509.5,784 C512,787 516.5,787 519,784.5" fill="none" stroke="#8a5030" stroke-width=".75"/>
<path d="M514,791.2 L512.5,796.5 M516,791.2 L517,796.5 M510.5,796.8 L519,796.8" fill="none"/>
</g>
<ellipse cx="771.5" cy="824.2" rx="32" ry="4.2" fill="#e2dace"/>
<g transform="translate(771.6,748.3) scale(0.64)" stroke-linejoin="round">
<path d="M-37,10 C-38.8,40 -41.8,80 -42.9,108 Q-43.2,117 -37,117.6 Q0,118.6 36,118.2 Q43.3,117 43.1,108 C42.3,80 39,40 37,10 Z" fill="url(#gBred)"/>
<path d="M-31.5,16.5 Q-32,16.5 -32.3,22 C-33,45 -34.5,80 -35,104 Q-35.2,110.2 -29,110.2 L22,110.2 Q27.6,110.2 27.6,104 C27.8,80 28,45 28.3,16.5 Z" fill="url(#gPred)"/>
<path d="M33.2,11 C34,45 35,85 35.6,118.2 L36,118.2 Q43.3,117 43.1,108 C42.3,80 39,40 37,10 Z" fill="#a23b35"/>
<path d="M37.2,20 C38.5,50 39.6,85 39.9,112" fill="none" stroke="#b0463f" stroke-width="2.2"/>
<path d="M33.2,11 C34,45 35,85 35.6,118.2" fill="none" stroke="#6e201c" stroke-width="1.8399999999999999"/>
<path d="M-37,10 C-38.8,40 -41.8,80 -42.9,108 Q-43.2,117 -37,117.6 Q0,118.6 36,118.2 Q43.3,117 43.1,108 C42.3,80 39,40 37,10 Z" fill="none" stroke="#6e201c" stroke-width="2.3"/>
<rect x="-37.6" y="0" width="75.2" height="10.2" rx="1.6" fill="#ad423b"/>
<rect x="-36.5" y="1.6" width="73" height="3" fill="#c65a51"/>
<rect x="-37.6" y="0" width="75.2" height="10.2" rx="1.6" fill="none" stroke="#6e201c" stroke-width="2.3"/>
<circle cx="-4" cy="59" r="27" fill="url(#gLbl)" stroke="#6e201c" stroke-width="2.1849999999999996"/>
</g>
<text x="768.8" y="815.6" text-anchor="middle" font-family="Liberation Sans, Arial, sans-serif" font-weight="700" font-size="10.8" fill="#f8ede2" textLength="26.5" lengthAdjust="spacingAndGlyphs">LAYEG</text>
<g stroke="#4f2d10" stroke-width=".85" stroke-linejoin="round" stroke-linecap="round">
<path d="M757,779 C757.5,776.4 759.5,775.8 761,777.4 C762.5,780 764.5,782.4 767,782.5 C769.5,782.5 771.5,780 772.5,777.4 C773.5,775.3 776,774.8 777.6,776.4 L779.2,777.9 L777.7,778.9 C778.4,782.5 777.9,787 775.6,790.5 C773,794 768,795.6 764,794.8 C760,794 757.3,790 756.8,785 C756.5,783 756.6,781 757,779 Z" fill="#b8722e"/>
<path d="M760.2,785.5 C763,789 769,789.4 773,786" fill="none" stroke="#6a3b12" stroke-width=".8"/>
<path d="M774.6,776.2 C774.8,774.6 776.2,774.2 777,775 C777.6,774.6 778.6,775.4 778,776.4 Z" fill="#c6382e" stroke="none"/>
<path d="M759,796 C762,795 764,796.6 766,795.6 C768,794.6 770,796.2 772,795.6 M758,797.4 C764,798.4 772,798.4 779,796.8" fill="none" stroke="#8a6a4a" stroke-width=".65"/>
</g>
<ellipse cx="1028" cy="824.2" rx="42" ry="4.6" fill="#e2dace"/>
<g stroke-linejoin="round" stroke-linecap="round">
<path d="M998.4,779.5 C996.5,785 995.6,792 996,800 C996.3,808 995,814 989.5,820 C988.6,821.2 989.6,822 991.5,821.8 C1000,822.4 1015,823.4 1028,823.4 C1041,823.4 1056,822.4 1063.5,821.8 C1065.6,822 1066.6,821 1065.2,820 C1060.5,814 1059.5,808 1059.6,800 C1059.8,792 1059,785 1057.6,779.5 Z" fill="#c0a077"/>
<path d="M1001,786 C1000,795 1000.5,805 1002,813 C1015,815.5 1042,815.5 1054,813 C1055.5,805 1056,795 1055,786 C1040,789 1015,789 1001,786 Z" fill="#c9ab83"/>
<path d="M998.4,779.5 C996.5,785 995.6,792 996,800 C996.3,808 995,814 989.5,820 C988.6,821.2 989.6,822 991.5,821.8 C1000,822.4 1015,823.4 1028,823.4 C1041,823.4 1056,822.4 1063.5,821.8 C1065.6,822 1066.6,821 1065.2,820 C1060.5,814 1059.5,808 1059.6,800 C1059.8,792 1059,785 1057.6,779.5 Z" fill="none" stroke="#563a20" stroke-width="1.5"/>
<path d="M996.2,761.4 C995.4,766 995.4,772 995.9,776.3 C996.5,779 998.5,780 1001,780.8 C1010,784 1020,785.6 1028,785.6 C1038,785.6 1048,783.5 1055.6,780.4 C1058,779.3 1059.3,777 1059.2,774.6 C1059.4,770 1059,765 1057.9,761.2 C1056,758.6 1052,758.4 1048,759.6 C1040,761 1015,761 1007,759.6 C1003,758.4 998.5,758.6 996.2,761.4 Z" fill="#c7a87f" stroke="#563a20" stroke-width="1.5"/>
<path d="M997.5,769 C999,773 1003,775 1008,775.6" fill="none" stroke="#8d6c48" stroke-width=".8"/>
<path d="M1056,768.5 C1055,772 1052,774 1048,775" fill="none" stroke="#8d6c48" stroke-width=".8"/>
<path d="M1001.6,763.4 C1006,757 1014,751.5 1020,750.4 C1024,749.6 1030,749.3 1034,750.6 C1041,752.4 1048,757.5 1052.9,762.9 C1046,767.5 1040,770.4 1030,770.6 C1020,770.4 1010,767.5 1001.6,763.4 Z" fill="url(#gGrain)" stroke="#563a20" stroke-width="1.2"/>
<circle cx="1029.1" cy="757.2" r=".85" fill="#7e521f"/>
<circle cx="1007.6" cy="759.6" r=".85" fill="#7e521f"/>
<circle cx="1024.1" cy="765.1" r=".85" fill="#7e521f"/>
<circle cx="1033.2" cy="767.1" r=".85" fill="#7e521f"/>
<circle cx="1031.0" cy="757.7" r=".85" fill="#7e521f"/>
<circle cx="1018.9" cy="764.9" r=".85" fill="#7e521f"/>
<circle cx="1013.1" cy="760.9" r=".85" fill="#7e521f"/>
<circle cx="1033.8" cy="757.3" r=".85" fill="#7e521f"/>
<circle cx="1029.6" cy="752.1" r=".85" fill="#7e521f"/>
<circle cx="1035.6" cy="758.3" r=".85" fill="#7e521f"/>
<circle cx="1019.1" cy="761.0" r=".85" fill="#7e521f"/>
<circle cx="1025.4" cy="756.1" r=".85" fill="#7e521f"/>
<circle cx="1040.7" cy="762.9" r=".85" fill="#7e521f"/>
<circle cx="1016.0" cy="760.8" r=".85" fill="#7e521f"/>
<circle cx="1028.6" cy="765.9" r=".85" fill="#7e521f"/>
<circle cx="1037.8" cy="755.9" r=".85" fill="#7e521f"/>
<circle cx="1023.8" cy="763.9" r=".85" fill="#7e521f"/>
<circle cx="1011.8" cy="759.3" r=".85" fill="#7e521f"/>
<circle cx="1006.8" cy="762.4" r=".85" fill="#7e521f"/>
<circle cx="1039.4" cy="760.7" r=".85" fill="#7e521f"/>
<circle cx="1036.3" cy="761.1" r=".85" fill="#7e521f"/>
<circle cx="1031.1" cy="758.8" r=".85" fill="#7e521f"/>
<circle cx="1026.3" cy="762.3" r=".85" fill="#7e521f"/>
<circle cx="1007.7" cy="762.9" r=".85" fill="#7e521f"/>
<circle cx="1022.4" cy="762.4" r=".85" fill="#7e521f"/>
<rect x="1003.2" y="793.1" width="48" height="13.9" fill="#ecd8b2"/>
<text x="1027.4" y="804.7" text-anchor="middle" font-family="Liberation Sans, Arial, sans-serif" font-weight="700" font-size="11" fill="#43290f" textLength="43.5" lengthAdjust="spacingAndGlyphs">SCRATCH</text>
</g>
</g>
</svg>
</body></html>
